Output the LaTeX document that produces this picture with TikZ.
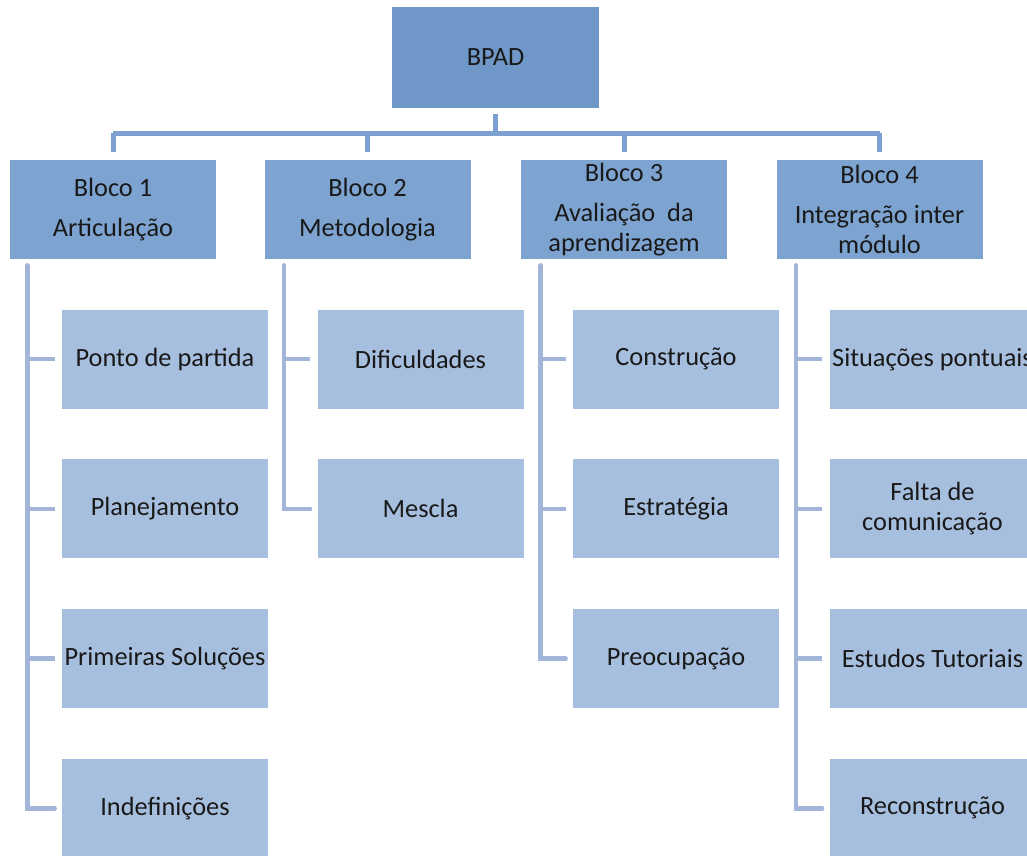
\documentclass[tikz,border=0pt]{standalone}
\usepackage{fontspec}
\setmainfont{Carlito}
\usetikzlibrary{positioning, calc}

\definecolor{topblue}{RGB}{111,152,200}
\definecolor{blockblue}{RGB}{125,163,208}
\definecolor{itemblue}{RGB}{167,191,222}
\definecolor{busline}{RGB}{124,160,207}
\definecolor{itemline}{RGB}{163,182,218}
\definecolor{txt}{RGB}{25,25,25}

\begin{document}
\begin{tikzpicture}[
    box/.style={minimum width=4.12cm, minimum height=1.98cm, inner sep=0pt,
                align=center, text=txt, font=\fontsize{15}{17}\selectfont},
    topbox/.style={box, fill=topblue, minimum width=4.14cm, minimum height=2.02cm},
    blockbox/.style={box, fill=blockblue},
    itembox/.style={box, fill=itemblue},
    bus/.style={busline, line width=0.1cm},
    tick/.style={itemline, line width=0.09cm, shorten >=0.14cm},
    node distance=1cm]
  \useasboundingbox (0,0) rectangle (20.54,-17.12);
  \clip (0,0) rectangle (20.54,-17.12);

  % top
  \node[topbox] (bpad) at (9.91,-1.15) {BPAD};

  % blocks
  \node[blockbox] (b1) at (2.26,-4.19) {Bloco 1\\[5.7pt]Articulação};
  \node[blockbox] (b2) at (7.35,-4.19) {Bloco 2\\[5.7pt]Metodologia};
  \node[blockbox] (b3) at (12.48,-4.19) {Bloco 3\\[5.7pt]Avaliação\ \ da\\aprendizagem};
  \node[blockbox] (b4) at (17.59,-4.19) {Bloco 4\\[5.7pt]Integração inter\\módulo};

  % items, column 1
  \node[itembox, below=of b1, xshift=1.04cm] (c11) {Ponto de partida};
  \node[itembox, below=of c11] (c12) {Planejamento};
  \node[itembox, below=of c12] (c13) {Primeiras Soluções};
  \node[itembox, below=of c13] (c14) {Indefinições};

  % items, column 2
  \node[itembox, below=of b2, xshift=1.06cm] (c21) {Dificuldades};
  \node[itembox, below=of c21] (c22) {Mescla};

  % items, column 3
  \node[itembox, below=of b3, xshift=1.04cm] (c31) {Construção};
  \node[itembox, below=of c31] (c32) {Estratégia};
  \node[itembox, below=of c32] (c33) {Preocupação};

  % items, column 4
  \node[itembox, below=of b4, xshift=1.06cm] (c41) {Situações pontuais};
  \node[itembox, below=of c41] (c42) {Falta de\\comunicação};
  \node[itembox, below=of c42] (c43) {Estudos Tutoriais};
  \node[itembox, below=of c43] (c44) {Reconstrução};

  % bus
  \coordinate (busmid) at ($(bpad.south)+(0,-0.5)$);
  \draw[bus, shorten <=0.12cm] (bpad.south) -- (busmid);
  \draw[bus] (b1.north |- busmid) -- (b4.north |- busmid);
  \foreach \b in {b1,b2,b3,b4}
    \draw[bus, shorten >=0.16cm] (\b.north |- busmid) -- (\b.north);

  % item connectors
  \coordinate (l1) at ($(b1.south west)+(0.36,-0.12)$);
  \coordinate (l2) at ($(b2.south west)+(0.40,-0.12)$);
  \coordinate (l3) at ($(b3.south west)+(0.40,-0.12)$);
  \coordinate (l4) at ($(b4.south west)+(0.40,-0.12)$);
  \draw[tick, line cap=round] (l1) |- (c14.west);
  \draw[tick, line cap=round] (l2) |- (c22.west);
  \draw[tick, line cap=round] (l3) |- (c33.west);
  \draw[tick, line cap=round] (l4) |- (c44.west);
  \foreach \c/\l in {c11/l1,c12/l1,c13/l1,c21/l2,c31/l3,c32/l3,c41/l4,c42/l4,c43/l4}
    \draw[tick] (\l |- \c.west) -- (\c.west);
\end{tikzpicture}
\end{document}
